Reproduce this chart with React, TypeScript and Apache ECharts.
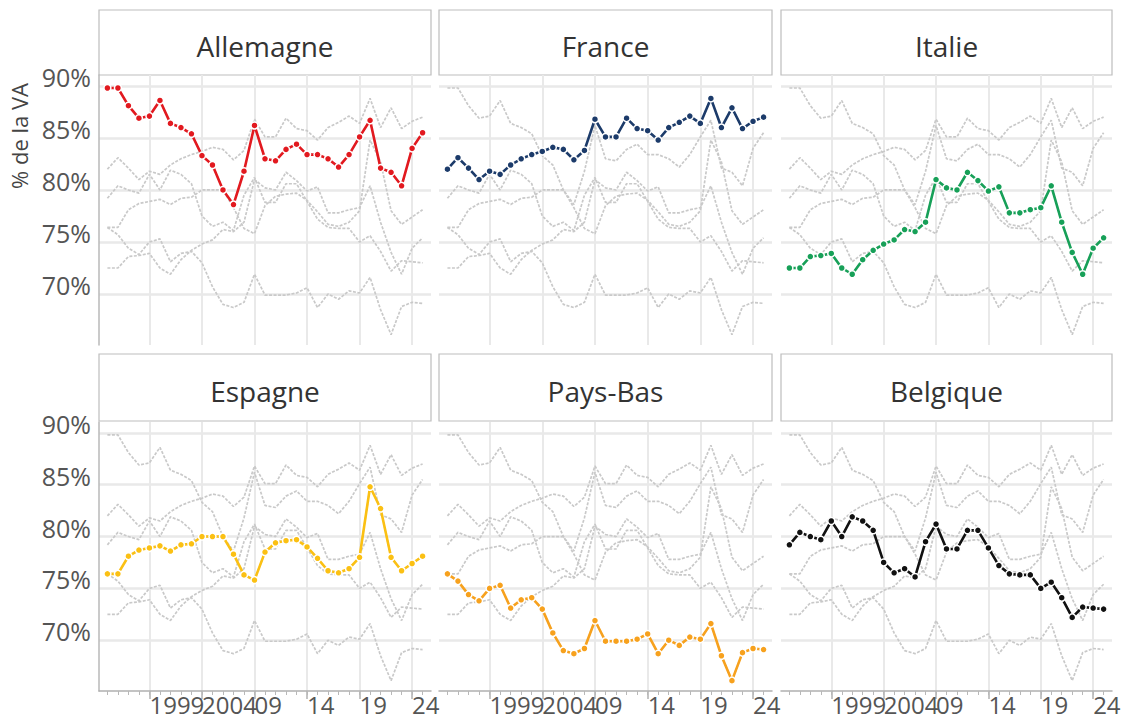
import React, { useEffect, useRef } from "react";
import * as echarts from "echarts";

const years = [1995, 1996, 1997, 1998, 1999, 2000, 2001, 2002, 2003, 2004, 2005, 2006, 2007, 2008, 2009, 2010, 2011, 2012, 2013, 2014, 2015, 2016, 2017, 2018, 2019, 2020, 2021, 2022, 2023, 2024, 2025];

const allemagne = [89.8, 89.8, 88.1, 86.9, 87.1, 88.6, 86.4, 86.0, 85.4, 83.3, 82.4, 80.0, 78.6, 81.8, 86.2, 83.0, 82.8, 83.9, 84.4, 83.4, 83.4, 83.0, 82.2, 83.4, 85.1, 86.7, 82.1, 81.7, 80.4, 84.0, 85.5];
const france = [82.0, 83.1, 82.1, 81.0, 81.8, 81.5, 82.4, 83.0, 83.4, 83.7, 84.1, 83.9, 82.9, 83.8, 86.8, 85.1, 85.1, 86.9, 85.9, 85.7, 84.8, 86.0, 86.5, 87.1, 86.4, 88.8, 86.0, 87.9, 85.9, 86.6, 87.0];
const italie = [72.5, 72.5, 73.6, 73.7, 73.9, 72.5, 71.9, 73.3, 74.2, 74.8, 75.2, 76.2, 76.0, 76.9, 81.0, 80.2, 80.0, 81.7, 80.9, 79.9, 80.3, 77.8, 77.8, 78.1, 78.3, 80.4, 76.9, 74.0, 71.9, 74.4, 75.4];
const espagne = [76.4, 76.4, 78.1, 78.7, 78.9, 79.1, 78.6, 79.2, 79.3, 80.0, 80.0, 80.0, 78.3, 76.3, 75.8, 78.5, 79.4, 79.6, 79.7, 79.0, 77.9, 76.7, 76.5, 76.9, 78.0, 84.8, 82.7, 78.0, 76.7, 77.4, 78.1];
const paysBas = [76.4, 75.7, 74.4, 73.8, 75.0, 75.3, 73.1, 73.9, 74.1, 73.0, 70.7, 69.0, 68.7, 69.2, 71.9, 69.9, 69.9, 69.9, 70.1, 70.6, 68.7, 70.0, 69.5, 70.3, 70.1, 71.6, 68.5, 66.1, 68.8, 69.2, 69.1];
const belgique = [79.2, 80.4, 80.0, 79.7, 81.5, 80.0, 81.9, 81.5, 80.6, 77.5, 76.5, 76.9, 76.1, 79.5, 81.2, 78.8, 78.8, 80.6, 80.6, 78.9, 77.2, 76.4, 76.3, 76.3, 75.0, 75.6, 74.1, 72.2, 73.2, 73.1, 73.0];

const countries = ["Allemagne", "France", "Italie", "Espagne", "Pays-Bas", "Belgique"];
const seriesValues = [allemagne, france, italie, espagne, paysBas, belgique];
const colors = ["#e2191f", "#1c3b6a", "#17a058", "#fbc013", "#f7a11d", "#111111"];

const yTicks = [70, 75, 80, 85, 90];
const xMajorYears = [1999, 2004, 2009, 2014, 2019, 2024];
const xLabelYearsA = [1999, 2009, 2014, 2019, 2024];
const xLabelYearsB = [2004];
const yTitle = "% de la VA";

export default function App() {
  const ref = useRef<HTMLDivElement>(null);

  useEffect(() => {
    if (!ref.current) return;
    const chart = echarts.init(ref.current, undefined, { renderer: "svg" });

    const colLeft = [99, 439, 781];
    const colWidth = [332, 333, 331];
    const rowTop = [75, 422];
    const rowHeight = [270, 269];
    const stripTop = [10, 354];
    const stripHeight = [65, 67];

    const font = "'Open Sans', 'Noto Sans', sans-serif";
    const grids: any[] = [];
    const xAxes: any[] = [];
    const yAxes: any[] = [];
    const series: any[] = [];
    const graphics: any[] = [];

    const labelFmt = (v: number) => (v === 1999 || v === 2004 ? String(v) : String(v).slice(2));

    countries.forEach((name, p) => {
      const r = Math.floor(p / 3);
      const c = p % 3;
      const bottom = r === 1;
      grids.push({
        left: colLeft[c],
        top: rowTop[r],
        width: colWidth[c],
        height: rowHeight[r],
        containLabel: false,
      });
      xAxes.push({
        gridIndex: p,
        type: "value",
        min: 1994.2,
        max: 2025.8,
        position: "bottom",
        axisLine: { show: bottom, onZero: false, lineStyle: { color: "#b0b0b0", width: 1.5 } },
        axisTick: {
          show: bottom,
          customValues: xMajorYears,
          length: 8,
          lineStyle: { color: "#b0b0b0", width: 1.5 },
        },
        axisLabel: {
          show: bottom,
          customValues: xLabelYearsA,
          showMinLabel: true,
          showMaxLabel: true,
          hideOverlap: false,
          align: "left",
          margin: 1,
          fontSize: 24,
          color: "#555",
          fontFamily: font,
          formatter: labelFmt,
        },
        splitLine: { show: true, lineStyle: { color: "#e9e9e9", width: 2 } },
      });
      xAxes.push({
        gridIndex: p,
        type: "value",
        min: 1994.2,
        max: 2025.8,
        position: "bottom",
        axisLine: { show: false },
        axisTick: {
          show: bottom,
          customValues: years,
          length: 4,
          lineStyle: { color: "#b8b8b8", width: 1 },
        },
        axisLabel: {
          show: bottom,
          customValues: xLabelYearsB,
          showMinLabel: true,
          showMaxLabel: true,
          align: "left",
          margin: 1,
          fontSize: 24,
          color: "#555",
          fontFamily: font,
          formatter: labelFmt,
        },
        splitLine: { show: false },
      });
      yAxes.push({
        gridIndex: p,
        type: "value",
        min: 65.1,
        max: 91.05,
        axisLine: { show: c === 0, lineStyle: { color: "#b8b8b8", width: 1.5 } },
        axisTick: { show: false, customValues: yTicks },
        axisLabel: {
          show: c === 0,
          customValues: yTicks,
          showMinLabel: true,
          showMaxLabel: true,
          formatter: (v: number) => v + "%",
          fontSize: 25,
          lineHeight: 18,
          verticalAlign: "bottom",
          color: "#555",
          fontFamily: font,
          margin: 8,
        },
        splitLine: { show: true, lineStyle: { color: "#e9e9e9", width: 2.5 } },
      });

      seriesValues.forEach((vals, k) => {
        series.push({
          type: "line",
          name: countries[k] + "-gris-" + p,
          xAxisIndex: p * 2,
          yAxisIndex: p,
          data: years.map((y, i) => [y, vals[i]]),
          showSymbol: false,
          symbol: "none",
          silent: true,
          lineStyle: { color: "#c9c9c9", width: 1.7, type: [3, 1.5] },
          z: 2,
        });
      });
      series.push({
        type: "line",
        name: name,
        xAxisIndex: p * 2,
        yAxisIndex: p,
        data: years.map((y, i) => [y, seriesValues[p][i]]),
        symbol: "circle",
        symbolSize: 7,
        showSymbol: true,
        lineStyle: { color: colors[p], width: 2.6 },
        itemStyle: { color: colors[p], borderColor: "#ffffff", borderWidth: 1.5 },
        z: 5,
      });

      graphics.push({
        type: "rect",
        shape: { x: colLeft[c], y: stripTop[r], width: colWidth[c], height: stripHeight[r] },
        style: { fill: "#ffffff", stroke: "#bdbdbd", lineWidth: 1.2 },
      });
      graphics.push({
        type: "text",
        x: colLeft[c] + colWidth[c] / 2,
        y: stripTop[r] + stripHeight[r] / 2 + 3,
        style: {
          text: name,
          fill: "#333",
          font: "28px " + font,
          align: "center",
          verticalAlign: "middle",
        },
      });
    });

    graphics.push({
      type: "text",
      x: 19,
      y: 136,
      rotation: Math.PI / 2,
      style: {
        text: yTitle,
        fill: "#444",
        font: "22px " + font,
        align: "center",
        verticalAlign: "middle",
      },
    });

    chart.setOption({
      animation: false,
      backgroundColor: "#ffffff",
      grid: grids,
      xAxis: xAxes,
      yAxis: yAxes,
      series,
      graphic: graphics,
    });

    return () => chart.dispose();
  }, []);

  return (
    <div
      ref={ref}
      style={{ position: "fixed", left: 0, top: 0, width: 1126, height: 724 }}
    />
  );
}
